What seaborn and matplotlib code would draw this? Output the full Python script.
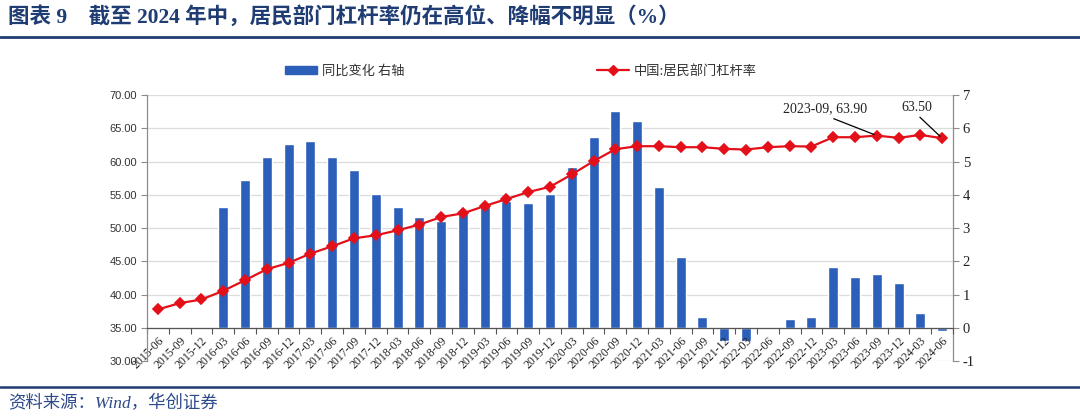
import numpy as np
import pandas as pd
import matplotlib
matplotlib.use("Agg")
import matplotlib.pyplot as plt
import seaborn as sns
from matplotlib.patches import Patch
from matplotlib.lines import Line2D

# Data
quarters = [
    "2015-06", "2015-09", "2015-12",
    "2016-03", "2016-06", "2016-09", "2016-12",
    "2017-03", "2017-06", "2017-09", "2017-12",
    "2018-03", "2018-06", "2018-09", "2018-12",
    "2019-03", "2019-06", "2019-09", "2019-12",
    "2020-03", "2020-06", "2020-09", "2020-12",
    "2021-03", "2021-06", "2021-09", "2021-12",
    "2022-03", "2022-06", "2022-09", "2022-12",
    "2023-03", "2023-06", "2023-09", "2023-12",
    "2024-03", "2024-06",
]
# year-on-year change, right axis
yoy = [
    np.nan, np.nan, np.nan,
    3.63, 4.44, 5.14, 5.52,
    5.63, 5.14, 4.74, 4.03,
    3.63, 3.34, 3.22, 3.45,
    3.70, 3.82, 3.74, 4.03,
    4.82, 5.73, 6.52, 6.22,
    4.23, 2.12, 0.33, -0.40,
    -0.40, 0.00, 0.25, 0.33,
    1.82, 1.52, 1.63, 1.34,
    0.44, -0.10,
]
# household leverage ratio, left axis
leverage = [
    37.75, 38.70, 39.25,
    40.55, 42.15, 43.80, 44.75,
    46.15, 47.25, 48.45, 48.90,
    49.65, 50.50, 51.65, 52.20,
    53.30, 54.35, 55.40, 56.20,
    58.05, 60.05, 61.85, 62.30,
    62.30, 62.15, 62.15, 61.90,
    61.80, 62.15, 62.30, 62.25,
    63.65, 63.65, 63.90, 63.55,
    64.00, 63.50,
]
left_ticks = [30, 35, 40, 45, 50, 55, 60, 65, 70]
right_ticks = [-1, 0, 1, 2, 3, 4, 5, 6, 7]

bar_label = "同比变化 右轴"
line_label = "中国:居民部门杠杆率"
title = "图表 9    截至 2024 年中，居民部门杠杆率仍在高位、降幅不明显（%）"
source = "资料来源：Wind，华创证券"

bar_color = "#2B5FBA"
line_color = "#E3101A"
navy = "#1F3C73"
gray = "#8C8C8C"

sns.set_theme(style="white")
plt.rcParams["font.family"] = ["Noto Sans CJK SC", "DejaVu Sans"]
serif_cjk = ["Liberation Serif", "Noto Sans CJK SC"]

df = pd.DataFrame({"quarter": quarters, "yoy": yoy, "leverage": leverage})
n = len(quarters)

fig = plt.figure(figsize=(10.8, 4.19), dpi=100)
ax = fig.add_axes([147 / 1080, 58 / 419, 806 / 1080, 266 / 419])
axr = ax.twinx()

# bars on the right axis
sns.barplot(data=df, x="quarter", y="yoy", ax=axr, color=bar_color,
            saturation=1, width=0.46, errorbar=None, zorder=2)
# line on the left axis
sns.pointplot(data=df, x="quarter", y="leverage", ax=ax, color=line_color,
              markers="D", markersize=5.5, linewidth=1.6, errorbar=None)

ax.set_zorder(axr.get_zorder() + 1)
ax.patch.set_visible(False)
axr.patch.set_visible(False)

ax.set_xlim(-0.5, n - 0.5)
ax.set_ylim(30, 70)
axr.set_ylim(-1, 7)
ax.set_yticks(left_ticks)
ax.set_yticklabels([f"{v:.2f}" for v in left_ticks], fontsize=8,
                   family="Liberation Sans", color="#333333")
axr.set_yticks(right_ticks)
axr.set_yticklabels([str(v) for v in right_ticks], fontsize=10.5,
                    family="Liberation Serif", color="#222222")
axr.grid(axis="y", color="#DCDCDC", linewidth=0.9)
ax.grid(False)
ax.set_xlabel("")
ax.set_ylabel("")
axr.set_xlabel("")
axr.set_ylabel("")

# x axis sits on the zero line of the right axis
ax.spines["bottom"].set_position(("data", 35))
for side in ["top", "right"]:
    ax.spines[side].set_visible(False)
for side in ["top", "left", "bottom"]:
    axr.spines[side].set_visible(False)
ax.spines["left"].set_color(gray)
ax.spines["bottom"].set_color("#555555")
axr.spines["right"].set_color(gray)
for sp in [ax.spines["left"], ax.spines["bottom"], axr.spines["right"]]:
    sp.set_linewidth(0.9)

ax.set_xticks(range(n))
ax.set_xticklabels(quarters, rotation=45, ha="right", va="top",
                   rotation_mode="anchor", fontsize=8.5,
                   family="Liberation Serif", color="#222222")
ax.set_xticks(np.arange(-0.5, n, 1), minor=True)
ax.tick_params(axis="x", which="major", length=0, pad=5)
ax.tick_params(axis="x", which="minor", length=4, direction="out",
               color="#555555", width=0.8, bottom=True)
ax.tick_params(axis="y", length=4, direction="out", color=gray, width=0.8,
               left=True, pad=3)
axr.tick_params(axis="y", length=4, direction="out", color=gray, width=0.8,
                right=True, pad=3)

# point labels
i1 = quarters.index("2023-09")
ax.annotate("2023-09, 63.90", xy=(i1, leverage[i1]), xytext=(-37, 14.5),
            textcoords="offset points", ha="center", va="bottom",
            fontsize=10, family="Liberation Serif", color="#222222",
            arrowprops=dict(arrowstyle="-", color="black", lw=0.9,
                            relpos=(0.5, 0), shrinkA=0, shrinkB=2))
i2 = quarters.index("2024-06")
ax.annotate("63.50", xy=(i2, leverage[i2]), xytext=(-18.5, 17.5),
            textcoords="offset points", ha="center", va="bottom",
            fontsize=10, family="Liberation Serif", color="#222222",
            arrowprops=dict(arrowstyle="-", color="black", lw=0.9,
                            relpos=(0.5, 0), shrinkA=0, shrinkB=2))

# legend
handles = [
    Patch(facecolor=bar_color, edgecolor=bar_color),
    Line2D([], [], color=line_color, marker="D", markersize=5, linewidth=1.6),
]
fig.legend(handles, [bar_label, line_label], loc="center",
           bbox_to_anchor=(521 / 1080, 1 - 71 / 419), ncol=2, frameon=False,
           fontsize=9.5, handlelength=2.4, handleheight=0.5,
           handletextpad=0.4, columnspacing=14.6, labelcolor="#333333")

# title, rules and source
fig.text(8 / 1080, 1 - 17 / 419, title, fontsize=15.5, fontweight="bold",
         color=navy, family=serif_cjk, ha="left", va="center")
fig.add_artist(Line2D([0, 1], [1 - 37 / 419, 1 - 37 / 419],
                      color=navy, linewidth=2))
fig.add_artist(Line2D([0, 1], [1 - 387 / 419, 1 - 387 / 419],
                      color=navy, linewidth=1.8))
fig.text(8 / 1080, 1 - 404 / 419, source, fontsize=12.5, style="italic",
         color="#2F4A8A", family=serif_cjk, ha="left", va="center")

fig.savefig("out.png", dpi=100, facecolor="white")
